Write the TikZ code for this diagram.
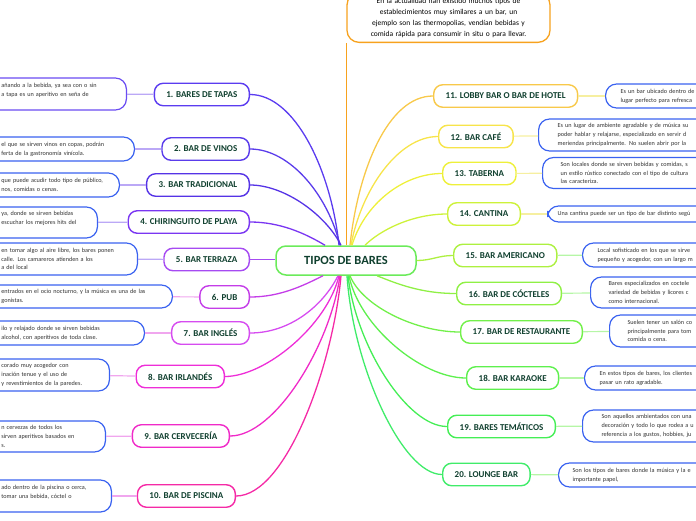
\documentclass[tikz,border=0pt]{standalone}
\usepackage{fontspec}
\setmainfont{Carlito}
\usetikzlibrary{positioning}

\definecolor{labtext}{HTML}{10402F}
\definecolor{desctext}{HTML}{333333}
\definecolor{rootgreen}{HTML}{6BEB5A}
\definecolor{topOrange}{HTML}{F7A21E}
\definecolor{descblue}{HTML}{3A62F0}
\definecolor{descviolet}{HTML}{6A4CF2}
\definecolor{c1}{HTML}{5B3CF0}
\definecolor{c2}{HTML}{5A3CEB}
\definecolor{c3}{HTML}{5533E6}
\definecolor{c4}{HTML}{7A36F2}
\definecolor{c5}{HTML}{A64BF2}
\definecolor{c6}{HTML}{C43DE8}
\definecolor{c7}{HTML}{D64CF0}
\definecolor{c8}{HTML}{EE2ED8}
\definecolor{c9}{HTML}{F02AC8}
\definecolor{c10}{HTML}{F52AA6}
\definecolor{c11}{HTML}{F8C94A}
\definecolor{c12}{HTML}{F7E44A}
\definecolor{c13}{HTML}{EEF03A}
\definecolor{c14}{HTML}{CDF23A}
\definecolor{c15}{HTML}{ADF040}
\definecolor{c16}{HTML}{8FF045}
\definecolor{c17}{HTML}{72F04A}
\definecolor{c18}{HTML}{5EF04E}
\definecolor{c19}{HTML}{44EE55}
\definecolor{c20}{HTML}{40EC6A}
\definecolor{linkViolet}{HTML}{BBA8F6}
\definecolor{linkMagenta}{HTML}{F0A6EE}
\definecolor{linkYellow}{HTML}{F6EFA0}
\definecolor{linkGreen}{HTML}{B6F6A6}

\begin{document}
\begin{tikzpicture}[x=1pt, y=-1pt,
    rootNode/.style={draw=rootgreen, fill=white, rounded corners=10pt, line width=1.5pt, minimum width=140pt, minimum height=29pt, text=labtext, font=\fontsize{12.5}{14}\selectfont\bfseries},
    labelNode/.style={draw=#1, fill=white, rounded corners=9pt, line width=1.4pt, minimum height=22.5pt, inner xsep=12pt, inner ysep=0pt, text=labtext, font=\fontsize{9}{10}\selectfont\bfseries},
    descNode/.style={draw=descblue, fill=white, rounded corners=11pt, line width=1.2pt, align=left, inner ysep=0pt, text=desctext, font=\fontsize{6.2}{8.8}\selectfont},
    leftDesc/.style={descNode, anchor=east, inner xsep=12pt},
    rightDesc/.style={descNode, anchor=west, text width=160pt, inner xsep=15pt},
    branch/.style={draw=#1, line width=1.3pt},
    twig/.style={draw=#1, line width=1.2pt}]

  \useasboundingbox (0,0) rectangle (696,520);

  % Root
  \node[rootNode] (root) at (346,260.5) {TIPOS DE BARES};
  \node[draw=topOrange, fill=white, rounded corners=12pt, line width=1.3pt, text width=175pt, inner xsep=14pt, inner ysep=5pt, align=center, anchor=south, font=\fontsize{7.5}{11}\selectfont] (intro) at (448.5,43)
    {En la actualidad han existido muchos tipos de\\ establecimientos muy similares a un bar, un\\ ejemplo son las thermopolias, vendían bebidas y\\ comida rápida para consumir in situ o para llevar.};

  % Left branches
  \node[labelNode=c1, anchor=east] (bar1) at (250,94.5) {1. BARES DE TAPAS};
  \node[labelNode=c2, anchor=east] (bar2) at (250,149) {2. BAR DE VINOS};
  \node[labelNode=c3, anchor=east] (bar3) at (250,185) {3. BAR TRADICIONAL};
  \node[labelNode=c4, anchor=east] (bar4) at (250,222) {4. CHIRINGUITO DE PLAYA};
  \node[labelNode=c5, anchor=east] (bar5) at (250,259.5) {5. BAR TERRAZA};
  \node[labelNode=c6, anchor=east] (bar6) at (250,297) {6. PUB};
  \node[labelNode=c7, anchor=east] (bar7) at (250,333) {7. BAR INGLÉS};
  \node[labelNode=c8, anchor=east] (bar8) at (225,376.5) {8. BAR IRLANDÉS};
  \node[labelNode=c9, anchor=east] (bar9) at (230,436) {9. BAR CERVECERÍA};
  \node[labelNode=c10, anchor=east] (bar10) at (236,496) {10. BAR DE PISCINA};

  % Right branches
  \node[labelNode=c11, anchor=west] (bar11) at (433,96) {11. LOBBY BAR O BAR DE HOTEL};
  \node[labelNode=c12, anchor=west] (bar12) at (438,136.5) {12. BAR CAFÉ};
  \node[labelNode=c13, anchor=west] (bar13) at (442,173.5) {13. TABERNA};
  \node[labelNode=c14, anchor=west] (bar14) at (447,214) {14. CANTINA};
  \node[labelNode=c15, anchor=west] (bar15) at (453,255.5) {15. BAR AMERICANO};
  \node[labelNode=c16, anchor=west] (bar16) at (456,293.5) {16. BAR DE CÓCTELES};
  \node[labelNode=c17, anchor=west] (bar17) at (460,332) {17. BAR DE RESTAURANTE};
  \node[labelNode=c18, anchor=west] (bar18) at (466,378) {18. BAR KARAOKE};
  \node[labelNode=c19, anchor=west] (bar19) at (447,426.5) {19. BARES TEMÁTICOS};
  \node[labelNode=c20, anchor=west] (bar20) at (442,474.5) {20. LOUNGE BAR};

  % Descriptions, left
  \node[leftDesc, draw=descviolet, text width=113pt, minimum height=32pt] (desc1) at (127,94) {añando a la bebida, ya sea con o sin\\ a tapa es un aperitivo en seña de\\ ~};
  \node[leftDesc, text width=121pt, minimum height=24pt] (desc2) at (135,149) {el que se sirven vinos en copas, podrán\\ ferta de la gastronomía vinícola.};
  \node[leftDesc, text width=106pt, minimum height=24pt] (desc3) at (120,185) {que puede acudir todo tipo de público,\\ nos, comidas o cenas.};
  \node[leftDesc, text width=84pt, minimum height=31pt] (desc4) at (98,222.5) {ya, donde se sirven bebidas\\ escuchar los mejores hits del\\ ~};
  \node[leftDesc, text width=124pt, minimum height=32pt] (desc5) at (138,259) {en tomar algo al aire libre, los bares ponen\\ calle. Los camareros atienden a los\\ a del local};
  \node[leftDesc, text width=159pt, minimum height=23pt] (desc6) at (173,296.5) {entrados en el ocio nocturno, y la música es una de las\\ gonistas.};
  \node[leftDesc, text width=131pt, minimum height=24pt] (desc7) at (145,333) {ilo y relajado donde se sirven bebidas\\ alcohol, con aperitivos de toda clase.};
  \node[leftDesc, text width=96pt, minimum height=32pt] (desc8) at (110,375) {corado muy acogedor con\\ inación tenue y el uso de\\ y revestimientos de la paredes.};
  \node[leftDesc, text width=92pt, minimum height=31pt] (desc9) at (106,436.5) {n cervezas de todos los\\ sirven aperitivos basados en\\ s.};
  \node[leftDesc, text width=98pt, minimum height=32pt] (desc10) at (112,496) {ado dentro de la piscina o cerca,\\ tomar una bebida, cóctel o\\ ~};

  % Descriptions, right
  \node[rightDesc, minimum height=24pt] (desc11) at (605,96) {Es un bar ubicado dentro de\\ lugar perfecto para refresca};
  \node[rightDesc, inner xsep=19pt, minimum height=32pt] (desc12) at (538,135) {Es un lugar de ambiente agradable y de música su\\ poder hablar y relajarse, especializado en servir d\\ meriendas principalmente. No suelen abrir por la};
  \node[rightDesc, inner xsep=18pt, minimum height=31pt] (desc13) at (542,173) {Son locales donde se sirven bebidas y comidas, s\\ un estilo rústico conectado con el tipo de cultura\\ las caracteriza.};
  \node[rightDesc, inner xsep=10pt, minimum height=16pt] (desc14) at (547,214) {Una cantina puede ser un tipo de bar distinto segú};
  \node[rightDesc, minimum height=24pt] (desc15) at (582,255) {Local sofisticado en los que se sirve\\ pequeño y acogedor, con un largo m};
  \node[rightDesc, inner xsep=18pt, minimum height=31pt] (desc16) at (590,292.5) {Bares especializados en coctele\\ variedad de bebidas y licores c\\ como internacional.};
  \node[rightDesc, inner xsep=18pt, minimum height=32pt] (desc17) at (609,331) {Suelen tener un salón co\\ principalmente para tom\\ comida o cena.};
  \node[rightDesc, minimum height=24pt] (desc18) at (584,378) {En estos tipos de bares, los clientes\\ pasar un rato agradable.};
  \node[rightDesc, inner xsep=19pt, minimum height=32pt] (desc19) at (582,426) {Son aquellos ambientados con una\\ decoración y todo lo que rodea a u\\ referencia a los gustos, hobbies, ju};
  \node[rightDesc, inner xsep=14pt, minimum height=24pt] (desc20) at (558,475) {Son los tipos de bares donde la música y la e\\ importante papel,};

  % Lines to the root
  \draw[branch=topOrange] (intro.south west) -- (intro.south west |- root.north);
  \draw[branch=c1] (bar1.east) .. controls +(45,0) and +(-8,-75) .. ([xshift=-7pt]root.north);
  \draw[branch=c2] (bar2.east) .. controls +(40,0) and +(-12,-50) .. ([xshift=-6pt]root.north);
  \draw[branch=c3] (bar3.east) .. controls +(35,0) and +(-15,-30) .. ([xshift=-5pt]root.north);
  \draw[branch=c4] (bar4.east) .. controls +(30,0) and +(-20,-12) .. ([xshift=-21pt]root.north);
  \draw[branch=c5] (bar5.east) -- (root.west |- bar5.east);
  \draw[branch=c6] (bar6.east) .. controls +(30,0) and +(-20,10) .. ([xshift=-23pt]root.south);
  \draw[branch=c7] (bar7.east) .. controls +(40,0) and +(-15,30) .. ([xshift=-8pt]root.south);
  \draw[branch=c8] (bar8.east) .. controls +(40,0) and +(-12,50) .. ([xshift=-7pt]root.south);
  \draw[branch=c9] (bar9.east) .. controls +(45,0) and +(-10,70) .. ([xshift=-6pt]root.south);
  \draw[branch=c10] (bar10.east) .. controls +(50,0) and +(-8,90) .. ([xshift=-5pt]root.south);
  \draw[branch=c11] (bar11.west) .. controls +(-45,0) and +(8,-75) .. ([xshift=4pt]root.north);
  \draw[branch=c12] (bar12.west) .. controls +(-40,0) and +(10,-55) .. ([xshift=5pt]root.north);
  \draw[branch=c13] (bar13.west) .. controls +(-40,0) and +(12,-40) .. ([xshift=6pt]root.north);
  \draw[branch=c14] (bar14.west) .. controls +(-35,0) and +(15,-15) .. ([xshift=19pt]root.north);
  \draw[branch=c15] (bar15.west) .. controls +(-15,0) and +(15,0) .. (root.east);
  \draw[branch=c16] (bar16.west) .. controls +(-35,0) and +(20,8) .. ([xshift=31pt]root.south);
  \draw[branch=c17] (bar17.west) .. controls +(-45,0) and +(12,30) .. ([xshift=4pt]root.south);
  \draw[branch=c18] (bar18.west) .. controls +(-45,0) and +(10,50) .. ([xshift=3pt]root.south);
  \draw[branch=c19] (bar19.west) .. controls +(-40,0) and +(8,70) .. ([xshift=2pt]root.south);
  \draw[branch=c20] (bar20.west) .. controls +(-40,0) and +(6,90) .. ([xshift=1pt]root.south);

  % Lines to the descriptions
  \draw[twig=linkViolet] (desc1) -- (bar1);
  \draw[twig=linkViolet] (desc2) -- (bar2);
  \draw[twig=linkViolet] (desc3) -- (bar3);
  \draw[twig=linkViolet] (desc4) -- (bar4);
  \draw[twig=linkViolet] (desc5) -- (bar5);
  \draw[twig=linkMagenta] (desc6) -- (bar6);
  \draw[twig=linkMagenta] (desc7) -- (bar7);
  \draw[twig=linkMagenta] (desc8) -- (bar8);
  \draw[twig=linkMagenta] (desc9) -- (bar9);
  \draw[twig=linkMagenta] (desc10) -- (bar10);
  \draw[twig=linkYellow] (bar11) -- (desc11);
  \draw[twig=linkYellow] (bar12) -- (desc12);
  \draw[twig=linkYellow] (bar13) -- (desc13);
  \draw[twig=linkYellow] (bar14) -- (desc14);
  \draw[twig=linkGreen] (bar15) -- (desc15);
  \draw[twig=linkGreen] (bar16) -- (desc16);
  \draw[twig=linkGreen] (bar17) -- (desc17);
  \draw[twig=linkGreen] (bar18) -- (desc18);
  \draw[twig=linkGreen] (bar19) -- (desc19);
  \draw[twig=linkGreen] (bar20) -- (desc20);

\end{tikzpicture}
\end{document}
